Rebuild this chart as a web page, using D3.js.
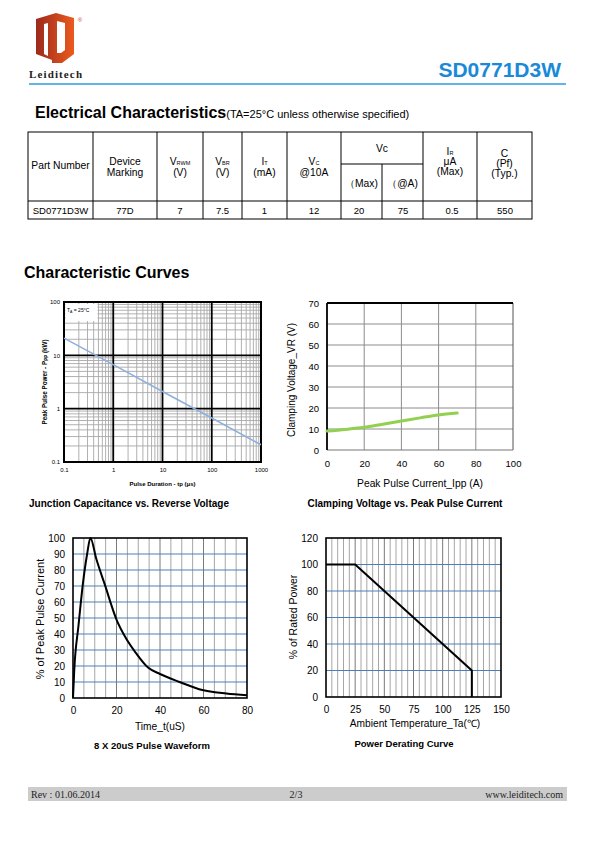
<!DOCTYPE html>
<html><head><meta charset="utf-8">
<script src="https://cdn.jsdelivr.net/npm/d3@7"></script>
<style>
body{margin:0;background:#fff;}
svg{display:block;font-family:"Liberation Sans",Arial,sans-serif;}
</style></head>
<body>
<script>
// ---------------- DATA ----------------
const partTitle = "SD0771D3W";
const tableRow = ["SD0771D3W","77D","7","7.5","1","12","20","75","0.5","550"];

// Chart 1: Peak pulse power vs pulse duration (log-log)
const ppDuration = [0.1, 1, 10, 100, 1000];
const ppPower    = [21, 6.7, 2.1, 0.67, 0.21];
const ppXTicks = [0.1, 1, 10, 100, 1000];
const ppYTicks = [0.1, 1, 10, 100];

// Chart 2: Clamping voltage vs peak pulse current
const cvCurrent = [0, 10, 20, 30, 40, 50, 60, 70];
const cvVoltage = [9, 9.8, 10.8, 12.3, 13.8, 15.3, 16.7, 17.6];
const cvXTicks = [0, 20, 40, 60, 80, 100];
const cvYTicks = [0, 10, 20, 30, 40, 50, 60, 70];

// Chart 3: 8x20us pulse waveform
const pwTime    = [0, 0.6, 2.5, 4.6, 6.5, 8, 10.7, 14.6, 20, 24.5, 29, 34.5, 40, 49, 58, 70.5, 80];
const pwPercent = [0, 18, 45, 72, 90, 100, 87, 71, 49, 37, 28, 19, 15, 10, 5.5, 2.8, 1.7];
const pwXTicks = [0, 20, 40, 60, 80];
const pwYTicks = [0, 10, 20, 30, 40, 50, 60, 70, 80, 90, 100];

// Chart 4: Power derating curve
const pdTemp    = [0, 25, 125, 125];
const pdPercent = [100, 100, 20, 0];
const pdXTicks = [0, 25, 50, 75, 100, 125, 150];
const pdYTicks = [0, 20, 40, 60, 80, 100, 120];

// ---------------- DRAW ----------------
const svg = d3.select("body").append("svg").attr("width",595).attr("height",842);
const SANS = '"Liberation Sans",Arial,sans-serif';
const SERIF = '"Liberation Serif","Times New Roman",serif';

// ---- Header / logo ----
const defs = svg.append("defs");
const lg = defs.append("linearGradient").attr("id","logoGrad").attr("x1","0").attr("x2","1").attr("y1","0").attr("y2","0");
lg.append("stop").attr("offset","0").attr("stop-color","#9c2a1c");
lg.append("stop").attr("offset","1").attr("stop-color","#ec5a1e");
const logo = svg.append("g");
logo.append("path").attr("d","M36,19 L56,13 L74,18 L74,54 L62,63 L52,63 L52,60 L36,54 Z").attr("fill","url(#logoGrad)");
logo.append("path").attr("d","M44,24 L48,23 L48,56 L44,54 Z").attr("fill","#fff");
logo.append("path").attr("d","M57,21 L65,23 L65,50 L61,53 L57,53 Z").attr("fill","#fff");
logo.append("text").attr("x",80).attr("y",22).attr("font-size",6).attr("fill","#d04020").attr("text-anchor","middle").text("®");
logo.append("text").attr("x",29).attr("y",78).attr("font-family",SERIF).attr("font-weight","bold")
  .attr("font-size",11).attr("textLength",53).attr("fill","#222").text("Leiditech");

svg.append("text").attr("x",561).attr("y",77).attr("text-anchor","end").attr("font-weight","bold")
  .attr("font-size",21).attr("fill","#1a8ad8").text(partTitle);
svg.append("line").attr("x1",29).attr("x2",566).attr("y1",84).attr("y2",84).attr("stroke","#2e9be0").attr("stroke-width",1.3);

// ---- Electrical characteristics heading ----
const h1 = svg.append("text").attr("x",35).attr("y",118).attr("fill","#000");
h1.append("tspan").attr("font-weight","bold").attr("font-size",16).text("Electrical Characteristics");
h1.append("tspan").attr("font-size",11).text("(TA=25°C unless otherwise specified)");

// ---- Table ----
const colX = [28, 93, 157, 203, 242, 287, 341, 382, 423, 477, 532];
const tTop=132, tSub=164, tHead=201, tBot=219;
const tg = svg.append("g").attr("stroke","#000").attr("stroke-width",1);
tg.append("rect").attr("x",colX[0]).attr("y",tTop).attr("width",colX[10]-colX[0]).attr("height",tBot-tTop).attr("fill","none");
colX.slice(1,10).forEach((x,i)=>{
  const idx=i+1;
  const y1 = idx===7 ? tSub : tTop;
  tg.append("line").attr("x1",x).attr("x2",x).attr("y1",y1).attr("y2",tBot);
});
tg.append("line").attr("x1",colX[6]).attr("x2",colX[8]).attr("y1",tSub).attr("y2",tSub);
tg.append("line").attr("x1",colX[0]).attr("x2",colX[10]).attr("y1",tHead).attr("y2",tHead);

const tt = svg.append("g").attr("font-size",10.3).attr("text-anchor","middle").attr("fill","#000");
const cc = i => (colX[i]+colX[i+1])/2;
function cellText(x,y,main,sub){
  const t = tt.append("text").attr("x",x).attr("y",y);
  t.append("tspan").text(main);
  if(sub) t.append("tspan").attr("font-size",5.5).text(sub);
  return t;
}
cellText(cc(0),169,"Part Number");
cellText(cc(1),165,"Device"); cellText(cc(1),176,"Marking");
cellText(cc(2),165,"V","RWM"); cellText(cc(2),176,"(V)");
cellText(cc(3),165,"V","BR"); cellText(cc(3),176,"(V)");
cellText(cc(4),165,"I","T"); cellText(cc(4),176,"(mA)");
cellText(cc(5),165,"V","C"); cellText(cc(5),176,"@10A");
cellText((colX[6]+colX[8])/2,152,"Vc");
cellText(cc(6),187,"（Max)"); cellText(cc(7),187,"（@A)");
cellText(cc(8),155,"I","R"); cellText(cc(8),165,"μA"); cellText(cc(8),175,"(Max)");
cellText(cc(9),157,"C"); cellText(cc(9),167,"(Pf)"); cellText(cc(9),177,"(Typ.)");
const rowX = [cc(0),cc(1),cc(2),cc(3),cc(4),cc(5),359,403,452,505];
tableRow.forEach((v,i)=>{ tt.append("text").attr("x",rowX[i]).attr("y",214).attr("font-size",9.5).text(v); });

// ---- Characteristic Curves heading ----
svg.append("text").attr("x",24).attr("y",278).attr("font-weight","bold").attr("font-size",16).text("Characteristic Curves");

// ================= Chart 1 (log-log) =================
{
  const L=64,R=261,T=302,B=462;
  const x = d3.scaleLog().domain([0.1,1000]).range([L,R]);
  const y = d3.scaleLog().domain([0.1,100]).range([B,T]);
  const g = svg.append("g");
  const minorX=[], minorY=[];
  [0.1,1,10,100].forEach(d=>{ for(let k=2;k<=9;k++) minorX.push(d*k); });
  [0.1,1,10].forEach(d=>{ for(let k=2;k<=9;k++) minorY.push(d*k); });
  g.selectAll(".mx").data(minorX).join("line").attr("x1",d=>x(d)).attr("x2",d=>x(d)).attr("y1",T).attr("y2",B).attr("stroke","#a8a8a8").attr("stroke-width",0.9);
  g.selectAll(".my").data(minorY).join("line").attr("y1",d=>y(d)).attr("y2",d=>y(d)).attr("x1",L).attr("x2",R).attr("stroke","#a8a8a8").attr("stroke-width",0.9);
  g.selectAll(".Mx").data([1,10,100]).join("line").attr("x1",d=>x(d)).attr("x2",d=>x(d)).attr("y1",T).attr("y2",B).attr("stroke","#000").attr("stroke-width",1.8);
  g.selectAll(".My").data([1,10]).join("line").attr("y1",d=>y(d)).attr("y2",d=>y(d)).attr("x1",L).attr("x2",R).attr("stroke","#000").attr("stroke-width",1.8);
  g.append("rect").attr("x",L).attr("y",T).attr("width",R-L).attr("height",B-T).attr("fill","none").attr("stroke","#000").attr("stroke-width",2);
  // curve
  g.append("path").datum(ppDuration.map((d,i)=>[d,ppPower[i]]))
    .attr("d",d3.line().x(d=>x(d[0])).y(d=>y(d[1])))
    .attr("fill","none").attr("stroke","#8eb0dc").attr("stroke-width",1.6);
  // legend
  g.append("rect").attr("x",65.5).attr("y",304).attr("width",32).attr("height",17).attr("fill","#fff");
  const lt = g.append("text").attr("x",67).attr("y",312).attr("font-size",5).attr("fill","#000");
  lt.append("tspan").text("T"); lt.append("tspan").attr("font-size",3.5).attr("dy",1).text("A");
  lt.append("tspan").attr("dy",-1).text(" = 25°C");
  // axes
  const fmt = d=> d<1 ? "0.1" : String(d);
  const ax = g.append("g").attr("transform",`translate(0,${B})`).call(d3.axisBottom(x).tickValues(ppXTicks).tickFormat(fmt).tickSize(0).tickPadding(6));
  ax.select(".domain").remove();
  ax.selectAll("text").attr("font-size",6).attr("font-family",SANS).attr("fill","#000");
  const ay = g.append("g").attr("transform",`translate(${L},0)`).call(d3.axisLeft(y).tickValues(ppYTicks).tickFormat(fmt).tickSize(0).tickPadding(4));
  ay.select(".domain").remove();
  ay.selectAll("text").attr("font-size",6).attr("font-family",SANS).attr("fill","#000");
  g.append("text").attr("x",(L+R)/2).attr("y",486).attr("text-anchor","middle").attr("font-size",6).attr("font-weight","bold").text("Pulse Duration - tp (μs)");
  const yl = g.append("text").attr("transform",`translate(47,${(T+B)/2}) rotate(-90)`).attr("text-anchor","middle").attr("font-size",6.3).attr("font-weight","bold");
  yl.append("tspan").text("Peak Pulse Power - P");
  yl.append("tspan").attr("font-size",4.5).attr("dy",1).text("PP");
  yl.append("tspan").attr("dy",-1).text(" (kW)");
  svg.append("text").attr("x",129).attr("y",507).attr("text-anchor","middle").attr("font-size",10).attr("font-weight","bold").text("Junction Capacitance vs. Reverse Voltage");
}

// ================= Chart 2 =================
{
  const L=327,R=513,T=303,B=450;
  const x = d3.scaleLinear().domain([0,100]).range([L,R]);
  const y = d3.scaleLinear().domain([0,70]).range([B,T]);
  const g = svg.append("g");
  g.selectAll(".gx").data(cvXTicks.slice(1,-1)).join("line").attr("x1",d=>x(d)).attr("x2",d=>x(d)).attr("y1",T).attr("y2",B).attr("stroke","#8c8c8c").attr("stroke-width",1);
  g.selectAll(".gy").data(cvYTicks.slice(1,-1)).join("line").attr("y1",d=>y(d)).attr("y2",d=>y(d)).attr("x1",L).attr("x2",R).attr("stroke","#8c8c8c").attr("stroke-width",1);
  g.append("line").attr("x1",R).attr("x2",R).attr("y1",T).attr("y2",B).attr("stroke","#555").attr("stroke-width",1);
  g.append("line").attr("x1",L).attr("x2",R).attr("y1",B).attr("y2",B).attr("stroke","#777").attr("stroke-width",1);
  g.append("line").attr("x1",L).attr("x2",R).attr("y1",T).attr("y2",T).attr("stroke","#000").attr("stroke-width",1.8);
  g.append("line").attr("x1",L).attr("x2",L).attr("y1",T).attr("y2",B).attr("stroke","#000").attr("stroke-width",1.8);
  g.append("path").datum(cvCurrent.map((d,i)=>[d,cvVoltage[i]]))
    .attr("d",d3.line().x(d=>x(d[0])).y(d=>y(d[1])).curve(d3.curveMonotoneX))
    .attr("fill","none").attr("stroke","#92d050").attr("stroke-width",3).attr("stroke-linecap","round");
  const ax = g.append("g").attr("transform",`translate(0,${B})`).call(d3.axisBottom(x).tickValues(cvXTicks).tickSize(0).tickPadding(10));
  ax.select(".domain").remove();
  ax.selectAll("text").attr("font-size",9.5).attr("font-family",SANS).attr("fill","#000");
  const ay = g.append("g").attr("transform",`translate(${L},0)`).call(d3.axisLeft(y).tickValues(cvYTicks).tickSize(0).tickPadding(8));
  ay.select(".domain").remove();
  ay.selectAll("text").attr("font-size",9.5).attr("font-family",SANS).attr("fill","#000");
  g.append("text").attr("x",420).attr("y",487).attr("text-anchor","middle").attr("font-size",10.3).text("Peak Pulse Current_Ipp  (A)");
  g.append("text").attr("transform",`translate(295,380) rotate(-90)`).attr("text-anchor","middle").attr("font-size",10).text("Clamping Voltage_VR  (V)");
  svg.append("text").attr("x",405).attr("y",507).attr("text-anchor","middle").attr("font-size",10).attr("font-weight","bold").text("Clamping Voltage vs. Peak Pulse Current");
}

// ================= Chart 3 =================
{
  const L=73,R=247,T=538,B=698;
  const x = d3.scaleLinear().domain([0,80]).range([L,R]);
  const y = d3.scaleLinear().domain([0,100]).range([B,T]);
  const g = svg.append("g");
  const vx = d3.range(5,80,5);
  g.selectAll(".gx").data(vx).join("line").attr("x1",d=>x(d)).attr("x2",d=>x(d)).attr("y1",T).attr("y2",B)
    .attr("stroke",d=>d%20===0?"#7a7a7a":"#a6a6a6").attr("stroke-width",1);
  g.selectAll(".gy").data(pwYTicks.slice(1,-1)).join("line").attr("y1",d=>y(d)).attr("y2",d=>y(d)).attr("x1",L).attr("x2",R).attr("stroke","#4a7ebb").attr("stroke-width",1);
  g.append("rect").attr("x",L).attr("y",T).attr("width",R-L).attr("height",B-T).attr("fill","none").attr("stroke","#000").attr("stroke-width",1.6);
  g.append("path").datum(pwTime.map((d,i)=>[d,pwPercent[i]]))
    .attr("d",d3.line().x(d=>x(d[0])).y(d=>y(d[1])).curve(d3.curveMonotoneX))
    .attr("fill","none").attr("stroke","#000").attr("stroke-width",2);
  const ax = g.append("g").attr("transform",`translate(0,${B})`).call(d3.axisBottom(x).tickValues(pwXTicks).tickSize(0).tickPadding(9));
  ax.select(".domain").remove();
  ax.selectAll("text").attr("font-size",10).attr("font-family",SANS).attr("fill","#000");
  const ay = g.append("g").attr("transform",`translate(${L},0)`).call(d3.axisLeft(y).tickValues(pwYTicks).tickSize(0).tickPadding(8));
  ay.select(".domain").remove();
  ay.selectAll("text").attr("font-size",10).attr("font-family",SANS).attr("fill","#000");
  g.append("text").attr("x",160).attr("y",730).attr("text-anchor","middle").attr("font-size",10.2).text("Time_t(uS)");
  g.append("text").attr("transform",`translate(44,619) rotate(-90)`).attr("text-anchor","middle").attr("font-size",11).text("% of Peak Pulse Current");
  svg.append("text").attr("x",152).attr("y",749).attr("text-anchor","middle").attr("font-size",9.5).attr("font-weight","bold").text("8 X 20uS Pulse Waveform");
}

// ================= Chart 4 =================
{
  const L=326,R=501,T=538,B=697;
  const x = d3.scaleLinear().domain([0,150]).range([L,R]);
  const y = d3.scaleLinear().domain([0,120]).range([B,T]);
  const g = svg.append("g");
  const vx = d3.range(5,150,5);
  g.selectAll(".gx").data(vx).join("line").attr("x1",d=>x(d)).attr("x2",d=>x(d)).attr("y1",T).attr("y2",B)
    .attr("stroke",d=>d%25===0?"#7a7a7a":"#a6a6a6").attr("stroke-width",1);
  g.selectAll(".gy").data(pdYTicks.slice(1,-1)).join("line").attr("y1",d=>y(d)).attr("y2",d=>y(d)).attr("x1",L).attr("x2",R).attr("stroke","#4a7ebb").attr("stroke-width",1);
  g.append("rect").attr("x",L).attr("y",T).attr("width",R-L).attr("height",B-T).attr("fill","none").attr("stroke","#000").attr("stroke-width",1.6);
  g.append("path").datum(pdTemp.map((d,i)=>[d,pdPercent[i]]))
    .attr("d",d3.line().x(d=>x(d[0])).y(d=>y(d[1])))
    .attr("fill","none").attr("stroke","#000").attr("stroke-width",2);
  const ax = g.append("g").attr("transform",`translate(0,${B})`).call(d3.axisBottom(x).tickValues(pdXTicks).tickSize(0).tickPadding(9));
  ax.select(".domain").remove();
  ax.selectAll("text").attr("font-size",10).attr("font-family",SANS).attr("fill","#000");
  const ay = g.append("g").attr("transform",`translate(${L},0)`).call(d3.axisLeft(y).tickValues(pdYTicks).tickSize(0).tickPadding(8));
  ay.select(".domain").remove();
  ay.selectAll("text").attr("font-size",10).attr("font-family",SANS).attr("fill","#000");
  g.append("text").attr("x",415).attr("y",727).attr("text-anchor","middle").attr("font-size",10.2).text("Ambient  Temperature_Ta(℃)");
  g.append("text").attr("transform",`translate(297,617) rotate(-90)`).attr("text-anchor","middle").attr("font-size",10.5).text("% of Rated Power");
  svg.append("text").attr("x",404).attr("y",747).attr("text-anchor","middle").attr("font-size",9.5).attr("font-weight","bold").text("Power Derating Curve");
}

// ---- Footer ----
svg.append("rect").attr("x",28).attr("y",787).attr("width",539).attr("height",14).attr("fill","#cccccc");
const ft = svg.append("g").attr("font-family",SERIF).attr("font-size",10).attr("fill","#222");
ft.append("text").attr("x",31).attr("y",798).text("Rev : 01.06.2014");
ft.append("text").attr("x",296).attr("y",798).attr("text-anchor","middle").text("2/3");
ft.append("text").attr("x",563).attr("y",798).attr("text-anchor","end").text("www.leiditech.com");
</script>
</body></html>
